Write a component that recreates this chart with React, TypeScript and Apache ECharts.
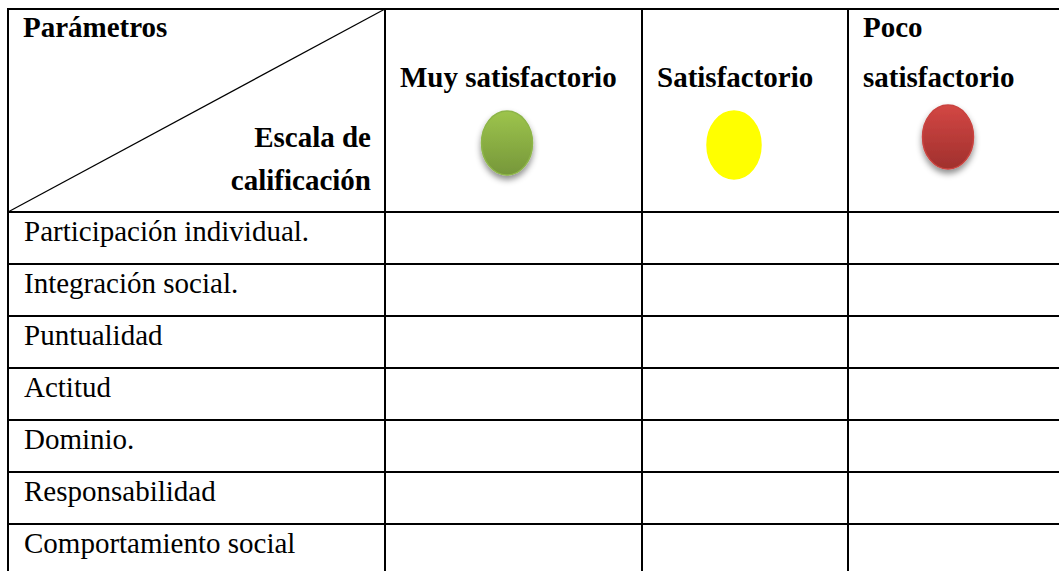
import React, { useEffect, useRef } from "react";
import * as echarts from "echarts";

const parameters = [
  "Participación individual.",
  "Integración social.",
  "Puntualidad",
  "Actitud",
  "Dominio.",
  "Responsabilidad",
  "Comportamiento social",
];
const cornerTop = "Parámetros";
const cornerBottom = ["Escala de", "calificación"];
const scaleLabels = [["Muy satisfactorio"], ["Satisfactorio"], ["Poco", "satisfactorio"]];
const scaleTop = ["#9DC44C", "#FFFF00", "#D34744"];
const scaleBottom = ["#76973A", "#FFFF00", "#A0302D"];
const scaleStroke = ["#8DB548", "#FFFF00", "#C9433F"];
const scaleShadow = [true, false, true];

const FONT = "Liberation Serif, Times New Roman, serif";
const FS = 29;

export default function App() {
  const ref = useRef<HTMLDivElement>(null);
  useEffect(() => {
    if (!ref.current) return;
    const chart = echarts.init(ref.current, null, { renderer: "svg" });
    const W = 1059;
    const H = 571;
    const left = 8;
    const top = 9;
    const headerBottom = 212;
    const rowH = 52;
    const colX = [385, 642, 848];
    const lw = 2;
    const mid = (baseline: number) => baseline - 0.32 * FS;

    const els: any[] = [];
    els.push({ type: "rect", shape: { x: 0, y: 0, width: W, height: H }, style: { fill: "#fff" }, silent: true });

    // text helper
    const txt = (s: string, x: number, baseline: number, bold: boolean, align: string = "left") => ({
      type: "text",
      x,
      y: mid(baseline),
      style: {
        text: s,
        fill: "#000",
        font: `${bold ? "bold " : ""}${FS}px ${FONT}`,
        textAlign: align,
        textVerticalAlign: "middle",
      },
    });

    // corner cell
    els.push(txt(cornerTop, 23, 36.7, true));
    els.push(txt(cornerBottom[0], 371, 146.7, true, "right"));
    els.push(txt(cornerBottom[1], 371, 189.3, true, "right"));

    // scale header cells
    scaleLabels.forEach((lines, i) => {
      const x0 = colX[i] + 15;
      if (lines.length === 1) {
        els.push(txt(lines[0], x0, 86, true));
      } else {
        els.push(txt(lines[0], x0, 36, true));
        els.push(txt(lines[1], x0, 86, true));
      }
    });

    // ellipses
    const ellipses = [
      { cx: 507, cy: 143, rx: 25.5, ry: 32 },
      { cx: 734, cy: 145, rx: 27, ry: 34 },
      { cx: 948, cy: 137, rx: 25.5, ry: 32 },
    ];
    ellipses.forEach((e, i) => {
      els.push({
        type: "ellipse",
        shape: { cx: e.cx, cy: e.cy, rx: e.rx, ry: e.ry },
        style: {
          fill: scaleTop[i] === scaleBottom[i]
            ? scaleTop[i]
            : new echarts.graphic.LinearGradient(0, 0, 0, 1, [
                { offset: 0, color: scaleTop[i] },
                { offset: 1, color: scaleBottom[i] },
              ]),
          stroke: scaleStroke[i],
          lineWidth: 1.5,
          shadowBlur: scaleShadow[i] ? 6 : 0,
          shadowOffsetY: scaleShadow[i] ? 4 : 0,
          shadowColor: "rgba(0,0,0,0.45)",
        },
      });
    });

    // row labels
    parameters.forEach((p, i) => {
      const rTop = headerBottom + i * rowH;
      els.push(txt(p, 24, rTop + 28, false));
    });

    // grid lines
    const line = (x1: number, y1: number, x2: number, y2: number, w: number = lw) => ({
      type: "line",
      shape: { x1, y1, x2, y2 },
      style: { stroke: "#000", lineWidth: w },
      silent: true,
    });
    els.push(line(left - 1, top, W, top));
    for (let i = 0; i <= parameters.length; i++) {
      const y = headerBottom + i * rowH;
      if (y < H) els.push(line(left - 1, y, W, y));
    }
    els.push(line(left, top - 1, left, H));
    colX.forEach((x) => els.push(line(x, top - 1, x, H)));
    els.push(line(left, headerBottom, colX[0], top, 1.2));

    chart.setOption({
      animation: false,
      backgroundColor: "#fff",
      graphic: { elements: els },
    });
    return () => chart.dispose();
  }, []);
  return (
    <div
      ref={ref}
      style={{ position: "fixed", left: 0, top: 0, width: 1059, height: 571, background: "#fff" }}
    />
  );
}
